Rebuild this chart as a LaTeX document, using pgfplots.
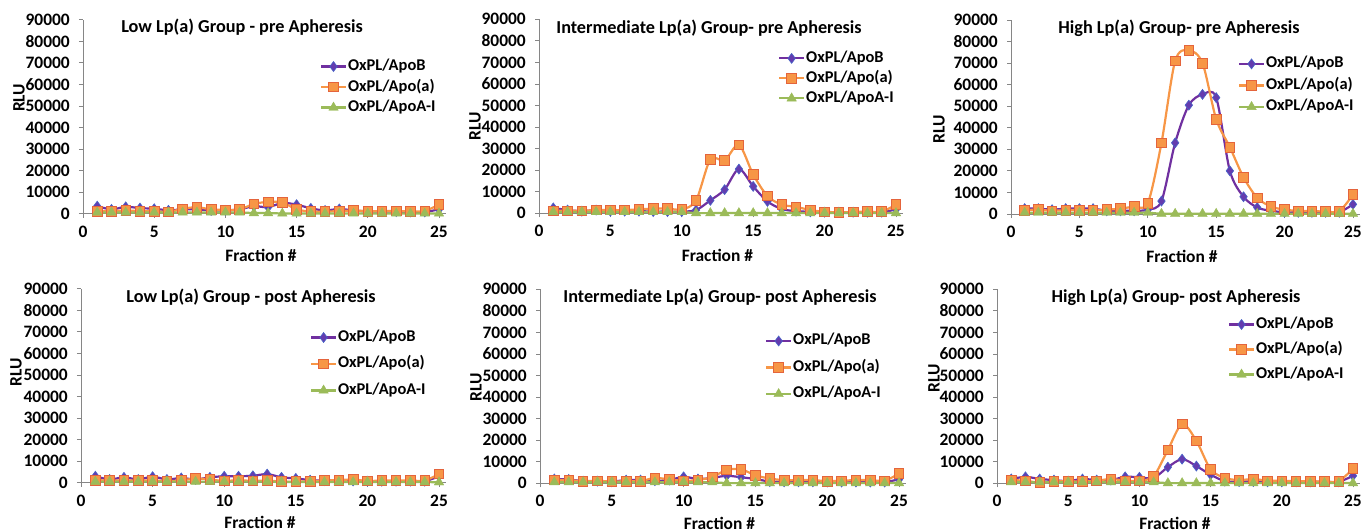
\documentclass[border=0pt]{standalone}
\usepackage{fontspec}
\setmainfont{Carlito}
\usepackage{pgfplots}
\usepackage{pgfplotstable}
\pgfplotsset{compat=1.18}

\definecolor{cB}{RGB}{112,48,160}
\definecolor{cBfill}{RGB}{100,60,175}
\definecolor{cBedge}{RGB}{70,100,200}
\definecolor{cA}{RGB}{247,150,70}
\definecolor{cAedge}{RGB}{228,100,60}
\definecolor{cG}{RGB}{155,187,89}
\definecolor{axgray}{RGB}{134,134,134}

\pgfplotstableread{
x b a ai
1 3500 1200 600
2 2000 1200 600
3 3200 1500 600
4 2600 1200 600
5 2300 1200 600
6 1600 800 500
7 2000 2300 600
8 2000 3000 600
9 1500 2000 600
10 1500 1800 600
11 2000 2000 600
12 3500 4500 300
13 3000 5500 300
14 5000 5200 100
15 4200 2000 100
16 2500 1000 100
17 1500 1000 100
18 2200 1200 100
19 1500 1500 100
20 1000 1200 100
21 1000 1200 100
22 1000 1300 100
23 800 1000 100
24 800 1300 100
25 2000 4200 100
}\lowpre

\pgfplotstableread{
x b a ai
1 2500 1200 600
2 1500 1200 600
3 1000 1200 600
4 1500 1500 600
5 1000 1500 600
6 1000 1500 600
7 1000 1800 600
8 800 2200 600
9 800 2200 600
10 800 1800 600
11 1500 6000 100
12 6000 25000 100
13 11000 24500 100
14 20500 31800 100
15 12500 18000 100
16 5500 8000 100
17 2000 4000 100
18 1000 3000 100
19 700 1500 100
20 500 700 100
21 500 500 100
22 500 600 100
23 500 800 100
24 500 800 100
25 1800 4000 100
}\intpre

\pgfplotstableread{
x b a ai
1 2500 1800 600
2 2500 2000 600
3 2000 1500 600
4 2500 1800 600
5 2500 1800 600
6 2500 1800 600
7 1500 2000 600
8 1500 2500 600
9 1500 3500 600
10 2000 5000 600
11 6000 33000 100
12 33000 71000 100
13 50500 76000 100
14 55500 70000 100
15 54000 44000 100
16 20000 31000 100
17 8000 17000 100
18 3000 7500 100
19 1500 3500 100
20 800 2000 100
21 800 1500 100
22 800 1300 100
23 800 1200 100
24 800 1300 100
25 4500 9000 100
}\highpre

\pgfplotstableread{
x b a ai
1 3000 1200 500
2 1500 1000 500
3 2500 1000 500
4 1500 1000 500
5 2800 1000 500
6 1500 800 500
7 2200 1000 500
8 1500 2000 500
9 2500 1500 500
10 3000 800 500
11 3000 1200 500
12 3200 800 500
13 4000 1000 500
14 2500 500 300
15 2000 500 300
16 1200 700 300
17 1000 1000 300
18 1000 1200 300
19 800 1500 300
20 700 800 300
21 700 1000 300
22 700 1000 300
23 700 1000 300
24 700 1000 300
25 3000 4000 200
}\lowpost

\pgfplotstableread{
x b a ai
1 2000 1500 500
2 1800 1500 500
3 1000 1000 500
4 1000 1200 500
5 800 800 500
6 1500 1000 500
7 1500 1000 500
8 1200 2500 500
9 1500 1800 500
10 3000 1200 500
11 2000 1500 500
12 2500 3000 500
13 3500 6200 100
14 2800 6500 100
15 2000 3700 100
16 800 2200 100
17 700 1500 100
18 700 1500 100
19 700 1500 100
20 600 1000 100
21 600 1200 100
22 600 1500 100
23 600 1500 100
24 600 1200 100
25 1800 4500 100
}\intpost

\pgfplotstableread{
x b a ai
1 2000 1500 500
2 3000 1200 500
3 2000 300 500
4 1500 800 500
5 1000 1000 500
6 2000 800 500
7 1500 1200 500
8 1500 2000 500
9 3000 1200 500
10 2800 1200 500
11 2500 3300 500
12 7500 15500 100
13 11200 27500 100
14 8000 19700 100
15 4000 6500 100
16 1000 2500 100
17 800 1500 100
18 800 2000 100
19 700 1200 100
20 700 1200 100
21 700 1000 100
22 700 1000 100
23 700 800 100
24 700 1000 100
25 3500 6800 100
}\highpost

\pgfplotsset{
  panel/.style={
    scale only axis, height=194bp, anchor=south west,
    xmin=0, xmax=25.5, ymin=0, ymax=90000,
    axis lines*=left,
    axis line style={axgray, line width=0.8bp},
    xtick={0,5,...,25}, ytick={0,10000,...,90000},
    tick align=outside, major tick length=4bp,
    tick style={axgray, line width=0.8bp},
    scaled y ticks=false,
    /pgf/number format/1000 sep={},
    /pgf/number format/assume math mode=true,
    ticklabel style={font=\fontsize{17.5}{20}\selectfont\bfseries},
    yticklabel style={inner sep=0pt, xshift=-9bp},
    xticklabel style={inner sep=0pt, yshift=-8bp},
    label style={font=\fontsize{17.5}{20}\selectfont\bfseries},
    title style={font=\fontsize{18.3}{21}\selectfont\bfseries, anchor=center, yshift=-6pt},
    xlabel={Fraction \#}, ylabel={RLU},
    clip=false,
    legend cell align=left,
    legend style={draw=none, fill=none, anchor=north west, inner sep=0pt, outer sep=0pt,
      font=\fontsize{16.5}{19}\selectfont\bfseries,
      nodes={inner sep=1bp, text height=12bp, text depth=4bp}},
    legend image code/.code={\draw[mark repeat=2,mark phase=2] plot coordinates {(0bp,0bp) (12.5bp,0bp) (25bp,0bp)};},
  },
  sB/.style={cB, line width=2.2bp, smooth, mark=diamond*, mark size=5bp,
    mark options={fill=cBfill, draw=cBedge, line width=0.6bp, solid}},
  sA/.style={cA, line width=2.2bp, smooth, mark=square*, mark size=4.8bp,
    mark options={fill=cA, draw=cAedge, line width=0.8bp, solid}},
  sG/.style={cG, line width=2.2bp, smooth, mark=triangle*, mark size=5.5bp,
    mark options={fill=cG, draw=cG, line width=0.4bp, solid}},
}

\begin{document}
\begin{tikzpicture}
\useasboundingbox (0,0) rectangle (1372bp,-531bp);

% Panel 1
\begin{axis}[panel, at={(83bp,-213.7bp)}, width=363.1bp,
  title={Low Lp(a) Group - pre Apheresis}, title style={at={(rel axis cs:0.438,0.964)}},
  xlabel style={at={([yshift=-42bp]rel axis cs:0.49,0)}, anchor=center},
  ylabel style={at={([xshift=-64bp]rel axis cs:0,0.597)}, anchor=center},
  legend style={at={(rel axis cs:0.6525,0.805)}, row sep=2.5bp}]
\addplot[sB] table[x=x,y=b]{\lowpre};
\addplot[sA] table[x=x,y=a]{\lowpre};
\addplot[sG] table[x=x,y=ai]{\lowpre};
\legend{OxPL/ApoB,OxPL/Apo(a),OxPL/ApoA-I}
\end{axis}

% Panel 2
\begin{axis}[panel, at={(539bp,-213.3bp)}, width=364.1bp,
  title={Intermediate Lp(a) Group- pre Apheresis}, title style={at={(rel axis cs:0.467,0.955)}},
  xlabel style={at={([yshift=-42bp]rel axis cs:0.49,0)}, anchor=center},
  ylabel style={at={([xshift=-64bp]rel axis cs:0,0.448)}, anchor=center},
  legend style={at={(rel axis cs:0.6565,0.845)}, row sep=2bp}]
\addplot[sB] table[x=x,y=b]{\intpre};
\addplot[sA] table[x=x,y=a]{\intpre};
\addplot[sG] table[x=x,y=ai]{\intpre};
\legend{OxPL/ApoB,OxPL/Apo(a),OxPL/ApoA-I}
\end{axis}

% Panel 3
\begin{axis}[panel, at={(1011bp,-214bp)}, width=348.8bp,
  title={High Lp(a) Group- pre Apheresis}, title style={at={(rel axis cs:0.4816,0.959)}},
  xlabel style={at={([yshift=-42bp]rel axis cs:0.49,0)}, anchor=center},
  ylabel style={at={([xshift=-72bp]rel axis cs:0,0.436)}, anchor=center},
  legend style={at={(rel axis cs:0.6506,0.82)}, row sep=3.5bp}]
\addplot[sB] table[x=x,y=b]{\highpre};
\addplot[sA] table[x=x,y=a]{\highpre};
\addplot[sG] table[x=x,y=ai]{\highpre};
\legend{OxPL/ApoB,OxPL/Apo(a),OxPL/ApoA-I}
\end{axis}

% Panel 4
\begin{axis}[panel, at={(81bp,-482.7bp)}, width=365.2bp,
  title={Low Lp(a) Group - post Apheresis}, title style={at={(rel axis cs:0.4655,0.9587)}},
  xlabel style={at={([yshift=-40bp]rel axis cs:0.49,0)}, anchor=center},
  ylabel style={at={([xshift=-65bp]rel axis cs:0,0.571)}, anchor=center},
  legend style={at={(rel axis cs:0.627,0.795)}, row sep=8.5bp}]
\addplot[sB] table[x=x,y=b]{\lowpost};
\addplot[sA] table[x=x,y=a]{\lowpost};
\addplot[sG] table[x=x,y=ai]{\lowpost};
\legend{OxPL/ApoB,OxPL/Apo(a),OxPL/ApoA-I}
\end{axis}

% Panel 5
\begin{axis}[panel, at={(540bp,-483.3bp)}, width=366.2bp,
  title={Intermediate Lp(a) Group- post Apheresis}, title style={at={(rel axis cs:0.4914,0.960)}},
  xlabel style={at={([yshift=-40bp]rel axis cs:0.49,0)}, anchor=center},
  ylabel style={at={([xshift=-64bp]rel axis cs:0,0.496)}, anchor=center},
  legend style={at={(rel axis cs:0.6145,0.78)}, row sep=8.5bp}]
\addplot[sB] table[x=x,y=b]{\intpost};
\addplot[sA] table[x=x,y=a]{\intpost};
\addplot[sG] table[x=x,y=ai]{\intpost};
\legend{OxPL/ApoB,OxPL/Apo(a),OxPL/ApoA-I}
\end{axis}

% Panel 6
\begin{axis}[panel, at={(997bp,-483.3bp)}, width=363.1bp,
  title={High Lp(a) Group- post Apheresis}, title style={at={(rel axis cs:0.493,0.960)}},
  xlabel style={at={([yshift=-40bp]rel axis cs:0.49,0)}, anchor=center},
  ylabel style={at={([xshift=-63bp]rel axis cs:0,0.541)}, anchor=center},
  legend style={at={(rel axis cs:0.636,0.865)}, row sep=7bp}]
\addplot[sB] table[x=x,y=b]{\highpost};
\addplot[sA] table[x=x,y=a]{\highpost};
\addplot[sG] table[x=x,y=ai]{\highpost};
\legend{OxPL/ApoB,OxPL/Apo(a),OxPL/ApoA-I}
\end{axis}
\end{tikzpicture}
\end{document}
